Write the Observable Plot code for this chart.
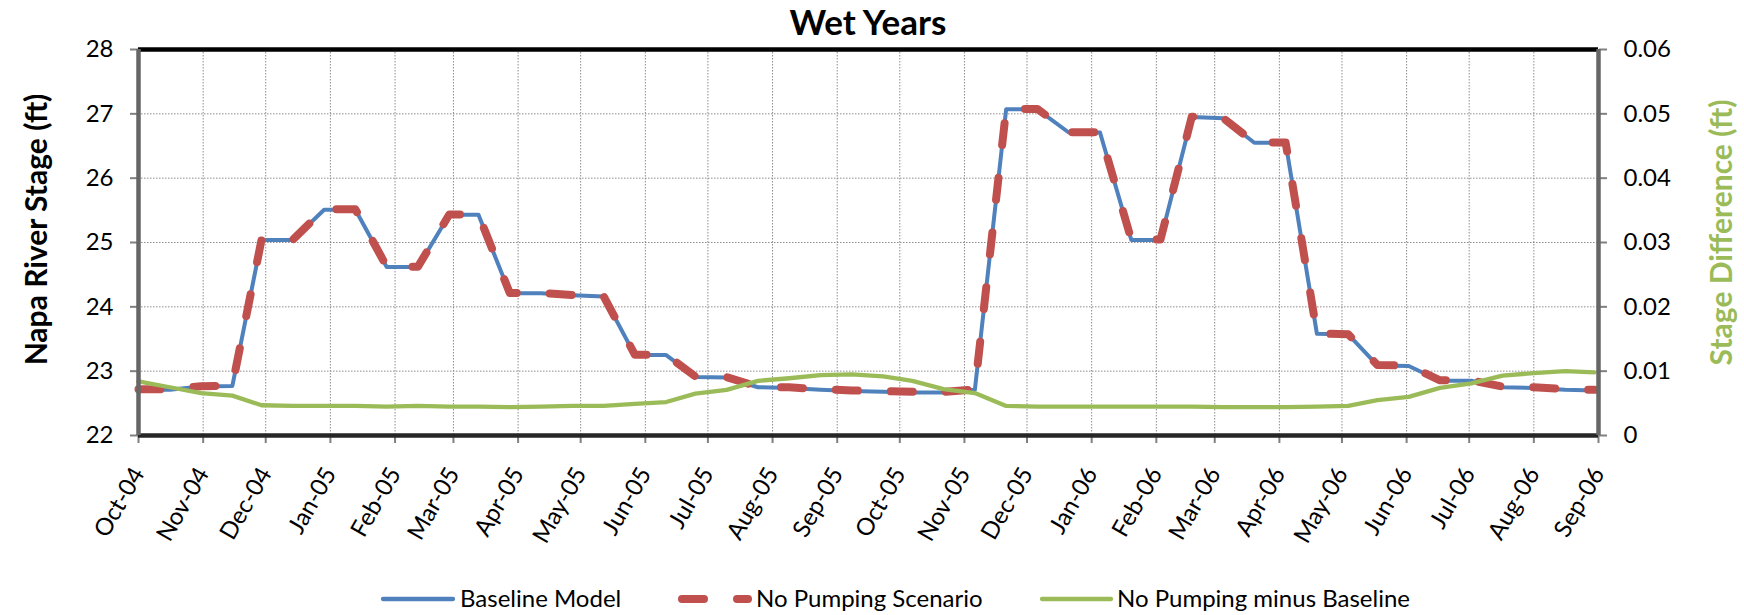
<!DOCTYPE html>
<html><head><meta charset="utf-8">
<script src="https://cdn.jsdelivr.net/npm/d3@7"></script>
<script src="https://cdn.jsdelivr.net/npm/@observablehq/plot@0.6"></script>
<style>
body{margin:0;background:#fff;font-family:Lato, sans-serif;}
#wrap{width:1744px;height:615px;overflow:hidden;background:#fff;}
#title{height:42px;line-height:42px;text-align:center;font-weight:bold;font-size:35px;padding-right:8px;color:#000;}
#chart svg{display:block;}
#legend{display:block;}
</style></head><body>
<div id="wrap"><div id="title"></div><div id="chart"></div><svg id="legend" width="1744" height="40"></svg></div>
<script>
const dates = ["2004-10-01","2004-10-16","2004-10-31","2004-11-15","2004-11-29","2004-12-14","2004-12-29","2005-01-13","2005-01-28","2005-02-12","2005-02-27","2005-03-13","2005-03-28","2005-04-12","2005-04-27","2005-05-12","2005-05-27","2005-06-11","2005-06-25","2005-07-10","2005-07-25","2005-08-09","2005-08-24","2005-09-08","2005-09-23","2005-10-07","2005-10-22","2005-11-06","2005-11-21","2005-12-06","2005-12-21","2006-01-05","2006-01-20","2006-02-03","2006-02-18","2006-03-05","2006-03-20","2006-04-04","2006-04-19","2006-05-04","2006-05-18","2006-06-02","2006-06-17","2006-07-02","2006-07-17","2006-08-01","2006-08-16","2006-08-30"];
const baseline = [22.71,22.71,22.76,22.77,25.04,25.04,25.51,25.51,24.62,24.62,25.43,25.43,24.21,24.21,24.18,24.16,23.25,23.25,22.91,22.90,22.75,22.74,22.71,22.69,22.68,22.67,22.67,22.71,27.07,27.07,26.71,26.71,25.04,25.04,26.95,26.93,26.55,26.55,23.58,23.57,23.09,23.08,22.85,22.85,22.75,22.74,22.71,22.70];
const noPumping = [22.718,22.718,22.767,22.776,25.045,25.045,25.515,25.515,24.625,24.625,25.435,25.435,24.214,24.215,24.185,24.165,23.255,23.255,22.917,22.907,22.759,22.749,22.719,22.700,22.689,22.679,22.677,22.717,27.075,27.075,26.715,26.715,25.045,25.045,26.955,26.934,26.554,26.554,23.585,23.575,23.096,23.086,22.857,22.858,22.759,22.750,22.720,22.710];
const difference = [0.0084,0.0075,0.0066,0.0062,0.0047,0.0046,0.0046,0.0046,0.0045,0.0046,0.0045,0.0045,0.0044,0.0045,0.0046,0.0046,0.0049,0.0052,0.0065,0.0071,0.0085,0.0089,0.0094,0.0095,0.0092,0.0085,0.0072,0.0066,0.0046,0.0045,0.0045,0.0045,0.0045,0.0045,0.0045,0.0044,0.0044,0.0044,0.0045,0.0046,0.0055,0.0060,0.0074,0.0081,0.0093,0.0097,0.0100,0.0098];
const leftTicks = [22,23,24,25,26,27,28];
const rightTicks = [0,0.01,0.02,0.03,0.04,0.05,0.06];
const rightTickLabels = ["0","0.01","0.02","0.03","0.04","0.05","0.06"];
const seriesNames = ["Baseline Model","No Pumping Scenario","No Pumping minus Baseline"];
const colors = ["#4F81BD","#C0504D","#9BBB59"];
const chartTitle = "Wet Years";
const leftTitle = "Napa River Stage (ft)";
const rightTitle = "Stage Difference (ft)";

document.getElementById("title").textContent = chartTitle;

const rows = dates.map((d,i)=>({date:new Date(d+"T00:00:00Z"), baseline:baseline[i], noPumping:noPumping[i], diff:difference[i]}));
// secondary axis: 0..0.06 mapped onto 22..28
const toStage = v => leftTicks[0] + (v - rightTicks[0]) * (leftTicks[leftTicks.length-1]-leftTicks[0]) / (rightTicks[rightTicks.length-1]-rightTicks[0]);
const months = d3.utcMonths(new Date(Date.UTC(2004,9,1)), new Date(Date.UTC(2006,8,2)));
const fmt = d3.utcFormat("%b-%y");

const chart = Plot.plot({
  width:1744, height:533, marginTop:7, marginBottom:140, marginLeft:138, marginRight:146,
  style:{fontFamily:"Lato, sans-serif", fontSize:"24px", color:"#000", background:"#fff", overflow:"visible"},
  x:{type:"utc", domain:[months[0], months[months.length-1]]},
  y:{domain:[leftTicks[0], leftTicks[leftTicks.length-1]]},
  marks:[
    Plot.ruleX(months.slice(1,-1), {stroke:"#8c8c8c", strokeWidth:1, strokeDasharray:"1.5,1.5"}),
    Plot.ruleY(leftTicks.slice(1,-1), {stroke:"#8c8c8c", strokeWidth:1, strokeDasharray:"1.5,1.5"}),
    Plot.axisX({ticks:months, tickFormat:fmt, tickRotate:-60, tickSize:8, tickPadding:26, stroke:"#808080", strokeWidth:2, fill:"#000", fontSize:24, label:null}),
    Plot.axisY({ticks:leftTicks, tickFormat:d=>String(d), tickSize:8, tickPadding:17, stroke:"#808080", strokeWidth:2, fill:"#000", fontSize:24, label:null}),
    Plot.axisY({anchor:"right", ticks:leftTicks, tickFormat:d=>rightTickLabels[leftTicks.indexOf(d)], tickSize:8, tickPadding:17, stroke:"#808080", strokeWidth:2, fill:"#000", fontSize:24, label:null}),
    Plot.line(rows, {x:"date", y:"baseline", stroke:colors[0], strokeWidth:4}),
    Plot.line(rows, {x:"date", y:"noPumping", stroke:colors[1], strokeWidth:8, strokeDasharray:"22,33", strokeLinecap:"round"}),
    Plot.line(rows, {x:"date", y:d=>toStage(d.diff), stroke:colors[2], strokeWidth:4.3}),
    Plot.ruleY([leftTicks[leftTicks.length-1]], {stroke:"#000", strokeWidth:4.5}),
    Plot.ruleY([leftTicks[0]], {stroke:"#262626", strokeWidth:4.5}),
    Plot.ruleX([months[0], months[months.length-1]], {stroke:"#666", strokeWidth:4.5}),
    Plot.text([leftTitle], {text:d=>d, frameAnchor:"left", textAnchor:"middle", dx:-101, dy:-13, rotate:-90, fontWeight:"bold", fontSize:30, fill:"#000"}),
    Plot.text([rightTitle], {text:d=>d, frameAnchor:"right", textAnchor:"middle", dx:124, dy:-10, rotate:-90, fontWeight:"bold", fontSize:30, fill:colors[2]})
  ]
});
document.getElementById("chart").appendChild(chart);

// legend
const lg = d3.select("#legend");
const items = [
  {x1:383, x2:453, tx:460, w:4.3, dash:null},
  {x1:682, x2:748, tx:756, w:8, dash:"22,33"},
  {x1:1042, x2:1111, tx:1117, w:4.3, dash:null}
];
items.forEach((it,i)=>{
  const ln = lg.append("line").attr("x1",it.x1).attr("x2",it.x2).attr("y1",24).attr("y2",24)
    .attr("stroke",colors[i]).attr("stroke-width",it.w).attr("stroke-linecap","round");
  if (it.dash) ln.attr("stroke-dasharray",it.dash);
  lg.append("text").attr("x",it.tx).attr("y",32).attr("font-family","Lato, sans-serif").attr("font-size",24).attr("fill","#000").text(seriesNames[i]);
});
</script>
</body></html>
